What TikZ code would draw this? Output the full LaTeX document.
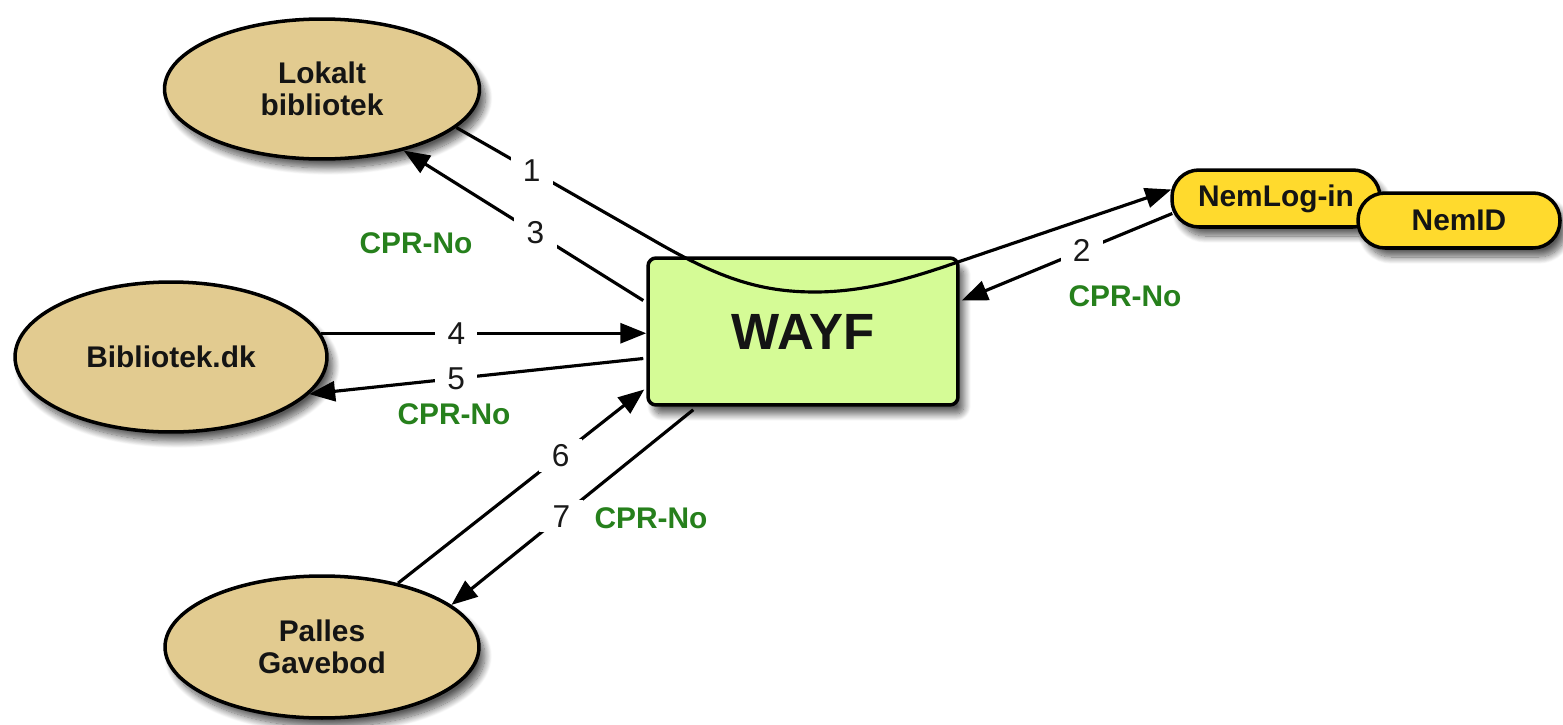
\documentclass[tikz,border=0pt]{standalone}
\usepackage{fontspec}
\setmainfont{Liberation Sans}
\usetikzlibrary{shapes.geometric,arrows.meta,calc,shadows.blur}
\definecolor{tan}{RGB}{226,203,144}
\definecolor{lime}{RGB}{213,251,150}
\definecolor{yel}{RGB}{255,218,45}
\definecolor{cprgreen}{RGB}{38,128,28}
\tikzset{
  shad/.style={blur shadow={shadow xshift=0.12cm, shadow yshift=-0.18cm, shadow blur steps=12, shadow opacity=65, shadow blur radius=0.14cm}},
  place/.style={ellipse, draw=black, line width=2pt, fill=tan, shad, align=center,
    font=\fontsize{17}{18.2}\selectfont\bfseries, text=black!92, inner sep=0pt},
  wayfbox/.style={rectangle, rounded corners=0.16cm, draw=black, line width=2pt, fill=lime, shad,
    minimum width=6.2cm, minimum height=2.94cm, font=\fontsize{29}{30}\selectfont\bfseries, text=black!92},
  pill/.style={rectangle, rounded corners=0.54cm, draw=black, line width=2pt, fill=yel, shad,
    font=\fontsize{17}{18}\selectfont\bfseries, text=black!92},
  conn/.style={line width=1.8pt, draw=black},
  arr/.style={conn, -{Triangle[length=0.52cm, width=0.4cm]}},
  num/.style={fill=white, inner xsep=7pt, inner ysep=3pt, font=\fontsize{18}{19}\selectfont, text=black!90},
  cpr/.style={font=\fontsize{17}{18}\selectfont\bfseries, text=cprgreen, inner sep=0pt}
}
\begin{document}
\begin{tikzpicture}[x=0.02cm, y=-0.02cm]
\useasboundingbox (0,0) rectangle (1563,724);
% nodes
\node[place, minimum width=6.3cm, minimum height=2.8cm] (lok) at (322,89) {Lokalt\\bibliotek};
\node[place, minimum width=6.24cm, minimum height=3.0cm] (bib) at (171,357) {Bibliotek.dk};
\node[place, minimum width=6.28cm, minimum height=2.84cm] (pal) at (322,647) {Palles\\Gavebod};
\node[wayfbox] (wayf) at (803,331.5) {WAYF};
\node[pill, minimum width=4.16cm, minimum height=1.14cm] (nl) at (1276,198.5) {NemLog-in};
\node[pill, minimum width=4.04cm, minimum height=1.1cm] (nid) at (1459,220.5) {NemID};
% connector 1
\draw[arr] (lok.-16) -- node[num, pos=0.37] (n1) {1} (660,244)
  .. controls (720,278) and (760,292) .. (815,292)
  .. controls (870,292) and (920,275) .. (958,262)
  -- ($(nl.west)+(1,-9)$);
% connector 2
\draw[arr] ($(nl.west)+(2,15)$) -- node[num, pos=0.43] (n2) {2} ($(wayf.east)+(2,-31)$);
\node[cpr] (c2) at (1125,296) {CPR-No};
% connector 3
\draw[arr] ($(wayf.west)+(-3,-31)$) -- node[num, pos=0.45] (n3) {3} (lok.-37);
\node[cpr] (c3) at (416,243) {CPR-No};
% connector 4
\draw[arr] (bib.9) -- node[num, pos=0.416] (n4) {4} (bib.9 -| wayf.west);
% connector 5
\draw[arr] ($(wayf.west)+(-3,27)$) -- node[num, pos=0.56] (n5) {5} (bib.-15);
\node[cpr] (c5) at (454,414) {CPR-No};
% connector 6
\draw[arr] (pal.40) -- node[num, pos=0.66] (n6) {6} ($(wayf.west)+(-2,58)$);
% connector 7
\draw[arr] ($(wayf.south west)+(47,3)$) -- node[num, pos=0.545] (n7) {7} (pal.18);
\node[cpr] (c7) at (651,518) {CPR-No};
\end{tikzpicture}
\end{document}
